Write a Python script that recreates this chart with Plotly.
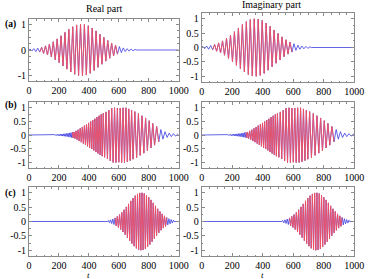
import plotly.graph_objects as go

# ---------------- data (peak times and signed peak values) -------------
# Panel (a)
a_t = [0, 6, 19, 32, 45, 58, 71, 84, 97, 110, 123, 136, 149, 162, 175, 188, 201, 214, 227, 240,
       253, 266, 279, 292, 305, 318, 331, 344, 357, 370, 383, 396, 409, 422, 435, 448, 461,
       474, 487, 500, 513, 526, 539, 552, 565, 578, 591, 604, 617, 630, 643, 656, 669, 682,
       695, 708, 720, 1000]
a_v = [0, 0.04, -0.04, 0.05, -0.06, 0.07, -0.08, 0.10, -0.13, 0.16, -0.19,
       0.23, -0.27, 0.32, -0.38, 0.43, -0.49, 0.55, -0.62, 0.68, -0.74,
       0.80, -0.85, 0.90, -0.94, 0.97, -0.99, 1.00, -1.00, 0.99, -0.97,
       0.94, -0.90, 0.85, -0.79, 0.74, -0.67, 0.61, -0.55, 0.49, -0.43,
       0.37, -0.32, 0.27, -0.23, 0.19, -0.16, 0.13, -0.10, 0.08, -0.06,
       0.05, -0.045, 0.04, -0.03, 0.02, 0, 0]
a_red = (60, 600)

# Panel (b)
b_t = [0, 145,
       150, 155, 160, 165, 170, 175, 180, 185, 190, 195, 200, 205, 210, 215, 220, 225, 230, 235,
       240, 245, 250, 255, 260, 265, 270, 275, 280, 285, 290, 295,
       300, 307, 314, 321, 328, 335, 342, 349, 356, 363, 370, 377, 384, 391, 398, 405, 412, 419,
       426, 433, 440, 447, 454, 461, 468, 475, 482, 489, 496,
       505, 514.5, 524, 533.5, 543, 552.5, 562, 571.5, 581, 590.5, 600, 609.5, 619, 628.5, 638,
       647.5, 657, 666.5, 676, 685.5, 695,
       707, 719, 731, 743, 755, 767, 779, 791, 803, 815, 827, 839,
       853, 867, 881, 895, 909, 923, 937, 951, 965, 979, 993, 1000]
b_v = [0, 0,
       0.01, -0.01, 0.012, -0.013, 0.014, -0.015, 0.017, -0.019, 0.021, -0.023, 0.025, -0.027,
       0.03, -0.032, 0.035, -0.038, 0.041, -0.044, 0.047, -0.05, 0.054, -0.058, 0.063, -0.068,
       0.074, -0.08, 0.086, -0.092, 0.098, -0.105,
       0.11, -0.13, 0.15, -0.17, 0.19, -0.22, 0.24, -0.26, 0.29, -0.31, 0.34, -0.36, 0.39, -0.41,
       0.44, -0.46, 0.49, -0.51, 0.54, -0.56, 0.59, -0.62, 0.65, -0.67, 0.70, -0.72, 0.75, -0.77,
       0.79,
       -0.81, 0.84, -0.87, 0.90, -0.94, 0.98, -1.0, 0.99, -1.0, 0.98, -0.99, 0.98, -1.0, 0.99,
       -1.0, 0.99, -0.97, 0.95, -0.93, 0.90, -0.88,
       0.85, -0.82, 0.78, -0.74, 0.70, -0.66, 0.62, -0.57, 0.52, -0.47, 0.42, -0.37,
       0.31, -0.25, 0.20, -0.15, 0.12, -0.09, 0.07, -0.06, 0.05, -0.04, 0.03, 0]
b_red = (290, 870)

# Panel (c)
c_t = [0, 525,
       530, 537.5, 545, 552.5, 560, 567.5, 575, 582.5, 590, 597.5, 605, 612.5, 620, 627.5, 635,
       642.5, 650, 657.5, 665, 672.5, 680, 687.5, 695, 702.5, 710, 717.5, 725, 732.5, 740,
       747.5, 755, 762.5, 770, 777.5, 785, 792.5, 800, 807.5, 815, 822.5, 830, 837.5, 845,
       852.5, 860, 867.5, 875, 882.5, 890, 897.5, 905, 912.5, 920, 927.5, 935, 942.5, 950,
       957.5, 965, 970, 1000]
c_v = [0, 0,
       0.038, -0.047, 0.058, -0.071, 0.087, -0.105, 0.126, -0.149, 0.177, -0.207,
       0.241, -0.278, 0.318, -0.362, 0.408, -0.457, 0.508, -0.560, 0.613, -0.666,
       0.717, -0.767, 0.815, -0.858, 0.897, -0.931, 0.959, -0.980, 0.993, -1.0,
       0.998, -0.989, 0.973, -0.950, 0.920, -0.885, 0.844, -0.799, 0.751, -0.700,
       0.648, -0.595, 0.543, -0.491, 0.441, -0.392, 0.347, -0.304, 0.265, -0.229,
       0.196, -0.167, 0.141, -0.118, 0.098, -0.081, 0.067, -0.054, 0.044, 0, 0]
c_red = (570, 925)

x_ticks = [0, 200, 400, 600, 800, 1000]
y_ticks_short = [1, 0, -1]
y_ticks_long = [1, 0.5, 0, -0.5, -1]
y_text_short = ["1", "0", "-1"]
y_text_long = ["1", "0.5", "0", "-0.5", "-1"]

panel_labels = ["(a)", "(b)", "(c)"]
col_titles = ["Real part", "Imaginary part"]

# ---------------- figure ----------------
FONT = "Liberation Serif"
BLUE = "rgb(60,60,225)"
RED = "rgb(245,80,95)"

rows = [(a_t, a_v, a_red), (b_t, b_v, b_red), (c_t, c_v, c_red)]

W, H = 373, 279
col_x = [(27 / W, 182 / W), (206 / W, 364 / W)]
row_y = [
    [(1 - 81 / H, 1 - 19 / H), (1 - 82 / H, 1 - 13 / H)],
    [(1 - 168 / H, 1 - 102 / H), (1 - 168 / H, 1 - 102 / H)],
    [(1 - 256 / H, 1 - 187 / H), (1 - 256 / H, 1 - 187 / H)],
]

fig = go.Figure()
layout = dict(width=W, height=H, margin=dict(l=0, r=0, t=0, b=0),
              paper_bgcolor="white", plot_bgcolor="white", showlegend=False,
              font=dict(family=FONT, size=10, color="black"))

idx = 0
for r, (ts, vs, red) in enumerate(rows):
    red_t = [t for t in ts if red[0] <= t <= red[1]]
    red_v = [v for t, v in zip(ts, vs) if red[0] <= t <= red[1]]
    for c in range(2):
        idx += 1
        xn = "x" if idx == 1 else f"x{idx}"
        yn = "y" if idx == 1 else f"y{idx}"
        fig.add_trace(go.Scatter(x=ts, y=vs, mode="lines", xaxis=xn, yaxis=yn,
                                 line=dict(color=BLUE, width=0.8), hoverinfo="skip"))
        fig.add_trace(go.Scatter(x=red_t, y=red_v, mode="lines", xaxis=xn, yaxis=yn,
                                 line=dict(color=RED, width=0.9), hoverinfo="skip"))
        short = (r == 0 and c == 0)
        axkey = "" if idx == 1 else str(idx)
        common = dict(showline=True, linecolor="#8a8a8a", linewidth=1, mirror="allticks",
                      ticks="inside", ticklen=3, tickcolor="#8a8a8a", tickwidth=1,
                      showgrid=False, zeroline=False,
                      tickfont=dict(family=FONT, size=10, color="black"))
        layout["xaxis" + axkey] = dict(
            domain=list(col_x[c]), anchor=yn, range=[0, 1000],
            tickvals=x_ticks, ticktext=[str(v) for v in x_ticks],
            minor=dict(ticks="inside", ticklen=1.5, dtick=50, tickcolor="#8a8a8a"),
            **common)
        layout["yaxis" + axkey] = dict(
            domain=list(row_y[r][c]), anchor=xn, range=[-1.2, 1.2],
            tickvals=y_ticks_short if short else y_ticks_long,
            ticktext=y_text_short if short else y_text_long,
            minor=dict(ticks="inside", ticklen=1.5, dtick=0.25, tickcolor="#8a8a8a"),
            **common)

annotations = [
    dict(text=col_titles[0], x=105 / W, y=1 - 9 / H, xref="paper", yref="paper",
         xanchor="center", yanchor="middle",
         showarrow=False, font=dict(family=FONT, size=10)),
    dict(text=col_titles[1], x=278 / W, y=1 - 5 / H, xref="paper", yref="paper",
         xanchor="center", yanchor="middle",
         showarrow=False, font=dict(family=FONT, size=10)),
]
for lab, yy in zip(panel_labels, [24, 105, 193]):
    annotations.append(dict(text="<b>" + lab + "</b>", x=8 / W, y=1 - yy / H,
                            xref="paper", yref="paper", xanchor="center", yanchor="middle",
                            showarrow=False, font=dict(family=FONT, size=9.5)))
for xr in ["x5 domain", "x6 domain"]:
    annotations.append(dict(text="<i>t</i>", x=0.4, y=1 - 275 / H, xref=xr, yref="paper",
                            xanchor="center", yanchor="middle",
                            showarrow=False, font=dict(family=FONT, size=9)))
layout["annotations"] = annotations
fig.update_layout(**layout)
fig.write_html("out.html")
